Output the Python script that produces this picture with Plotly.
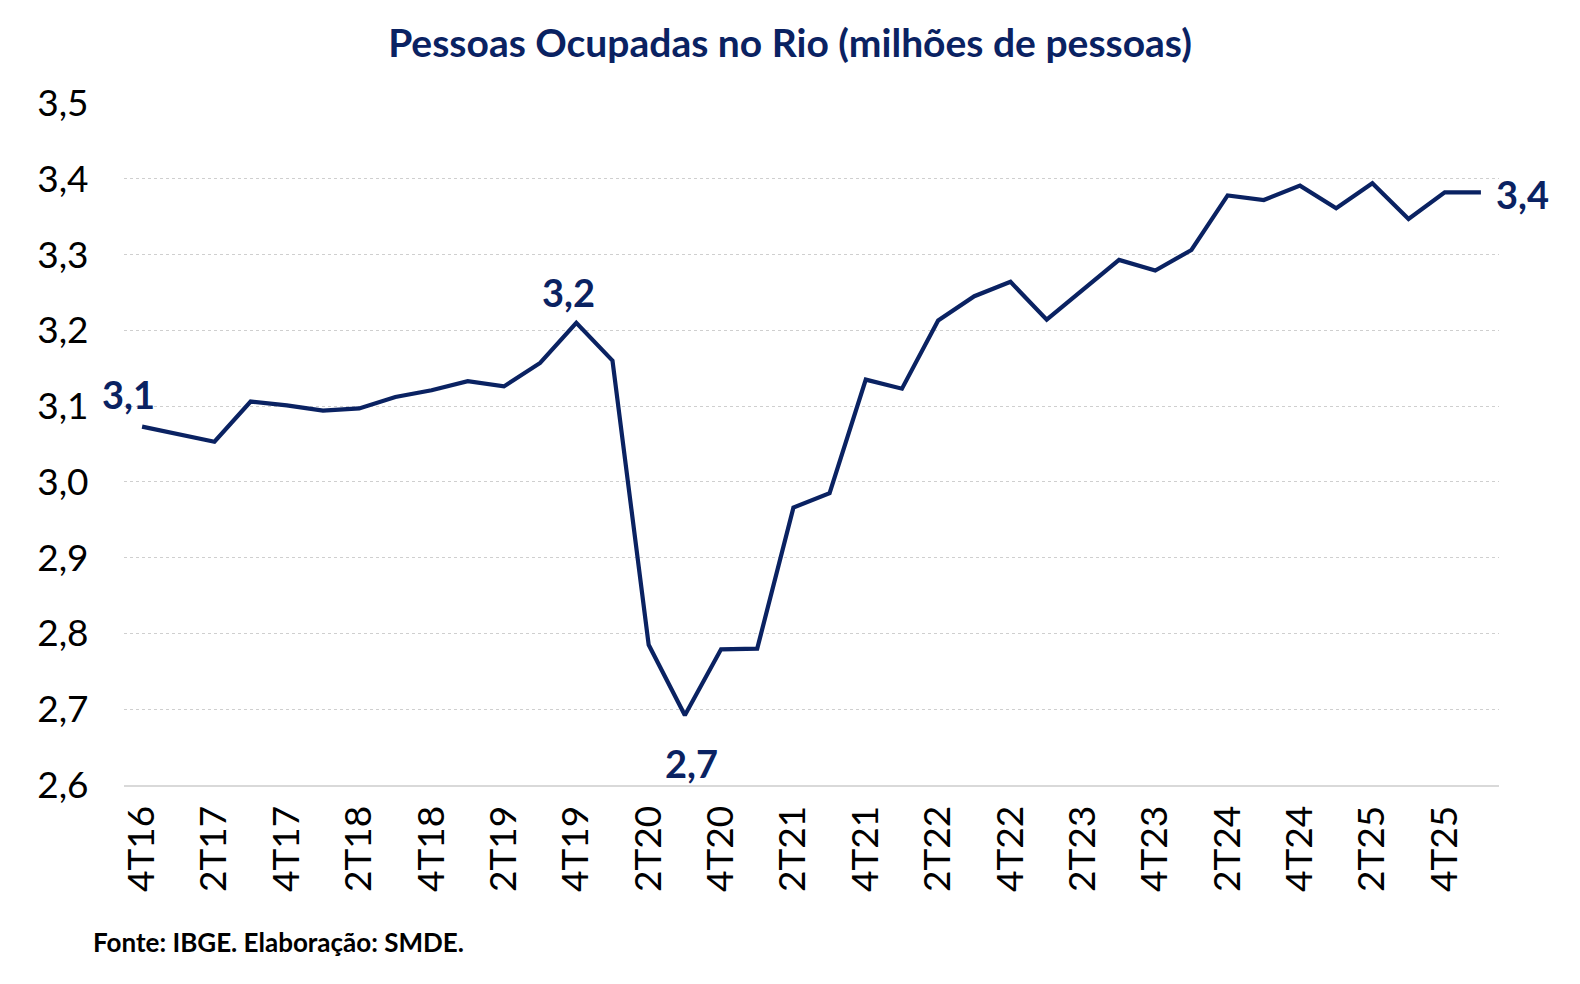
import plotly.graph_objects as go

quarters = ["4T16",
            "1T17", "2T17", "3T17", "4T17",
            "1T18", "2T18", "3T18", "4T18",
            "1T19", "2T19", "3T19", "4T19",
            "1T20", "2T20", "3T20", "4T20",
            "1T21", "2T21", "3T21", "4T21",
            "1T22", "2T22", "3T22", "4T22",
            "1T23", "2T23", "3T23", "4T23",
            "1T24", "2T24", "3T24", "4T24",
            "1T25", "2T25", "3T25", "4T25",
            "1T26"]

ocupadas = [3.073,
            3.063, 3.053, 3.106, 3.101,
            3.094, 3.097, 3.112, 3.121,
            3.133, 3.126, 3.157, 3.210,
            3.160, 2.785, 2.692, 2.779,
            2.780, 2.966, 2.985, 3.135,
            3.123, 3.213, 3.245, 3.264,
            3.214, 3.253, 3.293, 3.279,
            3.306, 3.378, 3.372, 3.391,
            3.361, 3.394, 3.347, 3.382,
            3.382]

tick_labels = ["4T16", "2T17", "4T17", "2T18", "4T18", "2T19", "4T19", "2T20",
               "4T20", "2T21", "4T21", "2T22", "4T22", "2T23", "4T23", "2T24",
               "4T24", "2T25", "4T25"]

y_ticks = [2.6, 2.7, 2.8, 2.9, 3.0, 3.1, 3.2, 3.3, 3.4, 3.5]

# indices of labelled points and label offsets (pixels)
label_idx = [0, 12, 15, 37]
label_shift = [(-14, 33), (-8, 31), (7, -48), (42, -2)]

NAVY = "#0a2262"

fig = go.Figure()
fig.add_trace(go.Scatter(
    x=quarters, y=ocupadas, mode="lines",
    line=dict(color=NAVY, width=4.2),
    hoverinfo="x+y", showlegend=False,
))

for i, (dx, dy) in zip(label_idx, label_shift):
    fig.add_annotation(
        x=quarters[i], y=ocupadas[i], xref="x", yref="y",
        text=f"{ocupadas[i]:.1f}".replace(".", ","),
        showarrow=False, xshift=dx, yshift=dy,
        font=dict(family="Lato", size=38, color=NAVY, weight="bold"),
    )

fig.add_annotation(
    x=-0.024, y=-0.230, xref="paper", yref="paper",
    xanchor="left", yanchor="middle",
    text="<b>Fonte: IBGE. Elaboração: SMDE.</b>",
    showarrow=False,
    font=dict(family="Lato", size=26, color="black"),
)

fig.update_layout(
    width=1580, height=984,
    margin=dict(l=124, r=81, t=103, b=199, autoexpand=False),
    paper_bgcolor="white", plot_bgcolor="white",
    separators=", ",
    title=dict(
        text="<b>Pessoas Ocupadas no Rio (milhões de pessoas)</b>",
        x=0.5, xanchor="center", xref="container",
        y=1 - 43 / 984, yanchor="middle",
        font=dict(family="Lato", size=39, color=NAVY),
    ),
    xaxis=dict(
        type="category",
        range=[-0.5, len(quarters) - 0.5],
        tickmode="array", tickvals=tick_labels, ticktext=tick_labels,
        tickangle=-90,
        tickfont=dict(family="Lato", size=37, color="black"),
        ticks="outside", ticklen=4, tickcolor="rgba(0,0,0,0)",
        showgrid=False,
        showline=True, linecolor="#d9d9d9", linewidth=2,
        zeroline=False,
    ),
    yaxis=dict(
        range=[2.6, 3.5],
        tickmode="array", tickvals=y_ticks,
        tickformat=".1f",
        tickfont=dict(family="Lato", size=37, color="black"),
        ticks="outside", ticklen=27, tickcolor="rgba(0,0,0,0)",
        showgrid=True, gridcolor="#cfcfcf", gridwidth=1.3, griddash="dot",
        showline=False, zeroline=False,
    ),
)

fig.write_html("out.html")
